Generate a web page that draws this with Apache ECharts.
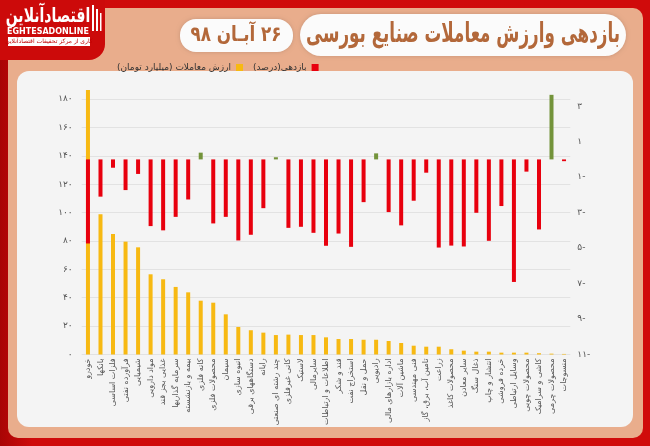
<!DOCTYPE html>
<html><head><meta charset="utf-8">
<script src="https://cdn.jsdelivr.net/npm/echarts@6/dist/echarts.min.js"></script>
<style>html,body{margin:0;padding:0;background:#fff}#c{width:650px;height:446px}</style>
</head><body><div id="c"></div>
<script>
const categories = ["خودرو","بانکها","فلزات اساسی","فرآورده نفتی","شیمیایی","مواد دارویی","غذایی بجز قند","سرمایه گذاریها","بیمه و بازنشسته","کانه فلزی","محصولات فلزی","سیمان","انبوه سازی","دستگاههای برقی","رایانه","چند رشته ای صنعتی","کانی غیرفلزی","لاستیک","سایرمالی","اطلاعات و ارتباطات","قند و شکر","استخراج نفت","حمل و نقل","رادیویی","اداره بازارهای مالی","ماشین آلات","فنی مهندسی","تامین آب، برق، گاز","زراعت","محصولات کاغذ","سایر معادن","ذغال سنگ","انتشار و چاپ","خرده فروشی","وسایل ارتباطی","محصولات چوبی","کاشی و سرامیک","محصولات چرمی","منسوجات"];
const tradeValue = [186.4,98.8,84.9,79.5,75.5,56.5,53.0,47.6,43.8,37.9,36.5,28.3,19.4,17.1,15.4,13.7,14.0,13.7,13.7,12.1,10.9,10.9,10.4,10.4,9.5,8.1,6.2,5.5,5.5,3.7,2.7,2.0,2.0,1.3,1.3,1.3,0.9,0.6,0.4];
const returnPct = [-4.74,-2.1,-0.47,-1.73,-0.82,-3.76,-4.0,-3.24,-2.26,0.38,-3.61,-3.24,-4.57,-4.25,-2.75,0.12,-3.86,-3.8,-4.14,-4.87,-4.18,-4.93,-2.41,0.34,-2.97,-3.72,-2.33,-0.75,-4.97,-4.86,-4.91,-3.01,-4.59,-2.63,-6.91,-0.69,-3.95,3.64,-0.1];
const leftTicks = [0,20,40,60,80,100,120,140,160,180];
const rightTicks = [3,1,-1,-3,-5,-7,-9,-11];
const seriesNames = ["ارزش معاملات (میلیارد تومان)","بازدهی(درصد)"];
const titleText = "بازدهی وارزش معاملات صنایع بورسی";
const dateText = "۲۶ آبـان ۹۸";

const faDigits = "۰۱۲۳۴۵۶۷۸۹";
function fa(n){return String(n).replace(/[0-9]/g,d=>faDigits[+d]);}
const rtl = s => '\u202B' + s + '\u202C';

const RED = "#E8000E", YEL = "#F7B912", GRN = "#73933A", BROWN = "#B3683A";
const FONT = "DejaVu Sans";

const chart = echarts.init(document.getElementById('c'), null, {renderer:'canvas'});
chart.setOption({
  animation:false,
  textStyle:{fontFamily:FONT},
  graphic:[
    {type:'rect', z:-20, shape:{x:0,y:0,width:650,height:446}, style:{fill:new echarts.graphic.LinearGradient(0,0,1,0,[{offset:0,color:'#A80505'},{offset:0.05,color:'#CF0B0B'},{offset:1,color:'#D00B0B'}])}},
    {type:'rect', z:-19, shape:{x:8,y:8,width:635,height:430,r:10}, style:{fill:'#E9AD8C'}},
    {type:'rect', z:-18, shape:{x:0,y:0,width:105,height:60,r:[0,0,16,0]}, style:{fill:'#CC0A0A'}},
    {type:'rect', z:-17, shape:{x:17,y:71,width:616,height:356,r:12}, style:{fill:'#F4F4F4'}},
    {type:'rect', z:-16, shape:{x:300,y:14,width:326,height:42,r:21}, style:{fill:'#FBFBFB',shadowBlur:4,shadowColor:'rgba(0,0,0,0.15)'}},
    {type:'rect', z:-16, shape:{x:180,y:19,width:113,height:33,r:16}, style:{fill:'#FBFBFB',shadowBlur:4,shadowColor:'rgba(0,0,0,0.15)'}},
    {type:'text', z:-15, x:463, y:35, scaleX:0.62, style:{x:0,y:0,text:titleText,align:'center',verticalAlign:'middle',font:'bold 27px "DejaVu Sans"',fill:BROWN}},
    {type:'text', z:-15, x:236, y:36, scaleX:0.8, style:{x:0,y:0,text:rtl(dateText),align:'center',verticalAlign:'middle',font:'bold 21px "DejaVu Sans"',fill:BROWN}},
    {type:'text', z:-15, x:48, y:17, scaleX:0.7, style:{x:0,y:0,text:'اقتصادآنلاین',align:'center',verticalAlign:'middle',font:'bold 20px "DejaVu Sans"',fill:'#fff'}},
    {type:'text', z:-15, style:{x:48,y:32,text:'EGHTESADONLINE',align:'center',verticalAlign:'middle',font:'bold 8px "DejaVu Sans"',fill:'#fff'}},
    {type:'rect', z:-15, shape:{x:8,y:37,width:82,height:9}, style:{fill:'#fff'}},
    {type:'text', z:-14, style:{x:49,y:41.5,text:'کاری از مرکز تحقیقات اقتصادآنلاین',align:'center',verticalAlign:'middle',font:'6px "DejaVu Sans"',fill:'#C00000'}},
    {type:'rect', z:-15, shape:{x:92,y:5,width:2,height:26}, style:{fill:'#fff'}},
    {type:'rect', z:-15, shape:{x:96,y:9,width:2,height:22}, style:{fill:'#fff'}},
    {type:'rect', z:-15, shape:{x:100,y:13,width:1.5,height:18}, style:{fill:'#fff'}}
  ],
  legend:{
    left:112, top:58, itemWidth:7, itemHeight:7, itemGap:10, align:'right', icon:'rect',
    formatter: n => rtl(n),
    textStyle:{fontSize:9,color:'#333',fontFamily:FONT},
    data:[{name:seriesNames[0],itemStyle:{color:YEL}},{name:seriesNames[1],itemStyle:{color:RED}}]
  },
  grid:{left:81.7, right:79.7, top:99, bottom:91.5, containLabel:false},
  xAxis:{type:'category', data:categories, boundaryGap:true,
    axisLine:{show:false}, axisTick:{show:false},
    axisLabel:{interval:0, rotate:90, margin:4, fontSize:8, color:'#555', fontFamily:FONT, formatter: v => rtl(v)}},
  yAxis:[
    {type:'value', min:0, max:180, interval:20, position:'left',
     axisLine:{show:false}, axisTick:{show:false},
     splitLine:{lineStyle:{color:'#E2E2E2',width:1}},
     axisLabel:{margin:9, fontSize:9, color:'#555', formatter:v=>leftTicks.includes(v)?fa(v):''}},
    {type:'value', min:-11, max:3.405, interval:2, position:'right',
     axisLine:{show:false}, axisTick:{show:false}, splitLine:{show:false},
     axisLabel:{margin:7, fontSize:9, color:'#555', formatter:v=>rightTicks.includes(v)?(v<0?fa(-v)+'-':fa(v)):''}}
  ],
  series:[
    {name:seriesNames[0], type:'bar', yAxisIndex:0, data:tradeValue, barWidth:4, clip:false, itemStyle:{color:YEL}},
    {name:seriesNames[1], type:'bar', yAxisIndex:1, data:returnPct, barWidth:4, barGap:'-100%', clip:false,
     itemStyle:{color:p=>p.value>=0?GRN:RED}}
  ]
});
</script></body></html>
